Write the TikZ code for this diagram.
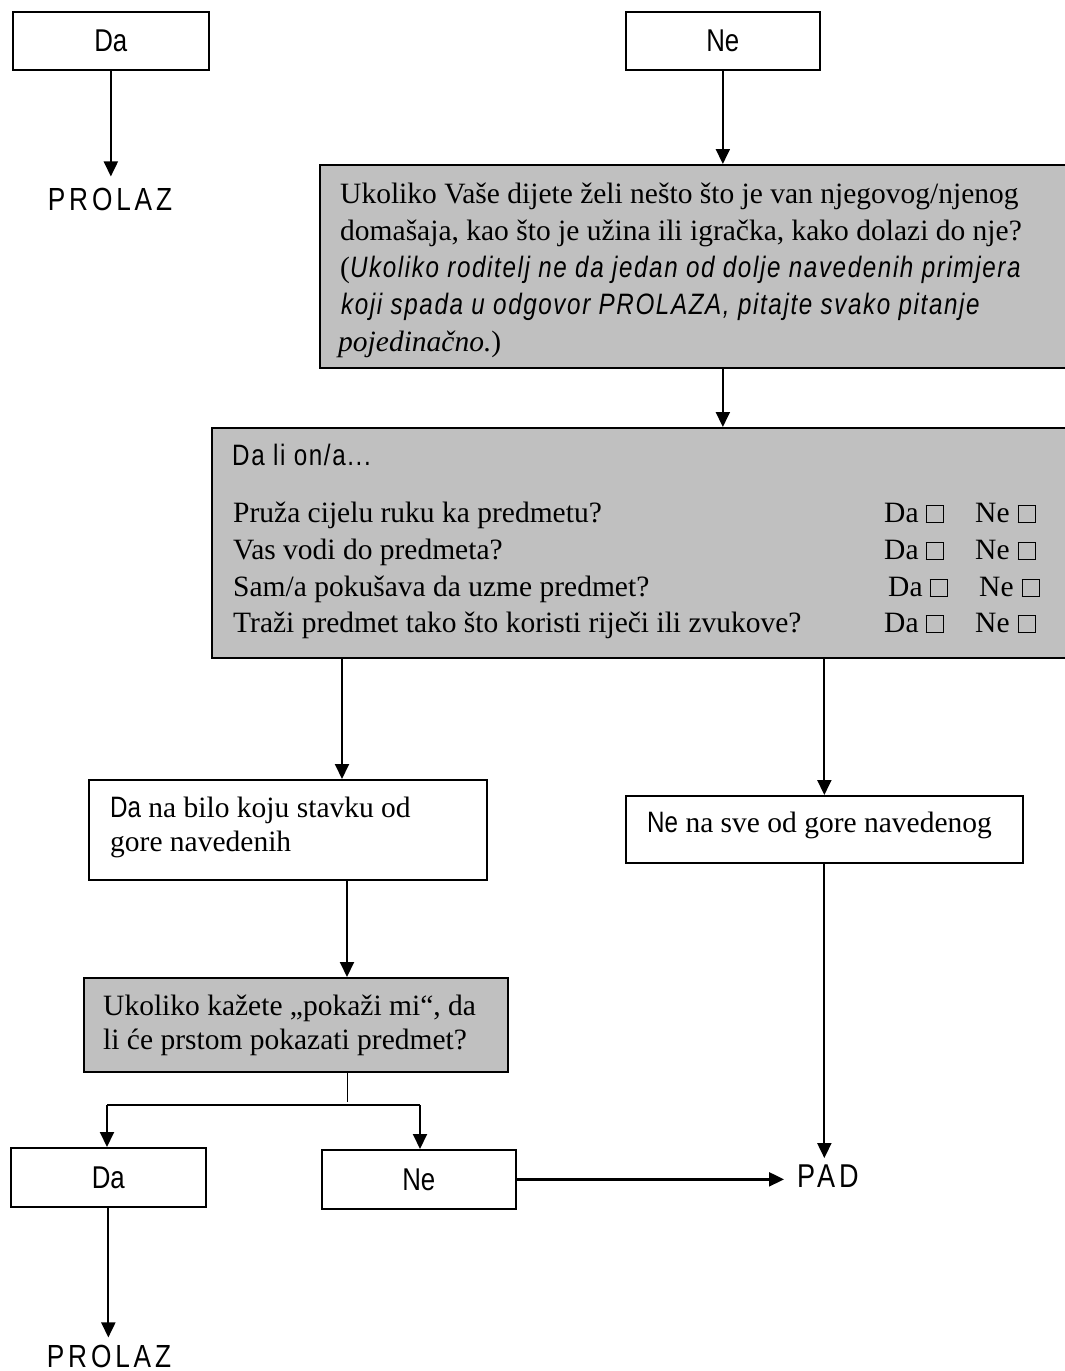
\documentclass[tikz,border=0pt]{standalone}
\usepackage{fontspec}
\setmainfont{Liberation Serif}
\newfontfamily\nar[FakeStretch=0.82]{Liberation Sans}
\newfontfamily\narls[FakeStretch=0.82,LetterSpace=5.5]{Liberation Sans}
\newfontfamily\narwide[FakeStretch=0.82,LetterSpace=12]{Liberation Sans}
\usetikzlibrary{arrows.meta,calc}
\definecolor{boxgray}{HTML}{C0C0C0}
\newcommand\cbx{{\setlength\fboxsep{0pt}\setlength\fboxrule{1.3pt}\fbox{\rule{0pt}{16pt}\rule{16pt}{0pt}}}}
\newcommand\dane{Da\hspace{7pt}\cbx\hspace{31pt}Ne\hspace{8pt}\cbx}
\begin{document}
\begin{tikzpicture}[x=1pt,y=-1pt,
  box/.style={draw, line width=1.7pt, inner sep=0pt, anchor=north west},
  gbox/.style={box, fill=boxgray},
  arr/.style={line width=1.9pt, -{Triangle[length=15pt,width=14pt]}},
  txt/.style={inner sep=0pt, anchor=base west, font=\fontsize{29.5}{37}\selectfont},
  big/.style={inner xsep=0pt, inner ysep=8pt, anchor=base, font=\narwide\fontsize{32}{36}\selectfont},
  lbl/.style={font=\nar\fontsize{31.5}{36}\selectfont}]
\fill[white] (0,0) rectangle (1065,1371);
\useasboundingbox (0,0) rectangle (1065,1371);

% top row
\node[box, minimum width=196pt, minimum height=58pt, lbl] (da1) at (12,11) {Da};
\node[big, inner ysep=11pt] (prolaz1) at (110,210) {PROLAZ};
\node[box, minimum width=194pt, minimum height=58pt, lbl] (ne1) at (625,11) {Ne};

% first question box
\node[gbox, minimum width=756pt, minimum height=203pt] (q1) at (319,164) {};
\node[txt] (q1a) at (340,203) {Ukoliko Vaše dijete želi nešto što je van njegovog/njenog};
\node[txt] (q1b) at (340,240) {domašaja, kao što je užina ili igračka, kako dolazi do nje?};
\node[txt] (q1c) at (340,277) {({\narls\itshape Ukoliko roditelj ne da jedan od dolje navedenih primjera}};
\node[txt] (q1d) at (341,314) {{\narls\itshape koji spada u odgovor PROLAZA, pitajte svako pitanje}};
\node[txt] (q1e) at (338,351) {\textit{pojedinačno.})};

% second question box
\node[gbox, minimum width=864pt, minimum height=230pt] (q2) at (211,427) {};
\node[txt, font=\narls\fontsize{29.5}{37}\selectfont] (q2h) at (232,465) {Da li on/a...};
\node[txt] (q2a) at (233,522) {Pruža cijelu ruku ka predmetu?};
\node[txt] (q2b) at (233,559) {Vas vodi do predmeta?};
\node[txt] (q2c) at (233,596) {Sam/a pokušava da uzme predmet?};
\node[txt] (q2d) at (233,632) {Traži predmet tako što koristi riječi ili zvukove?};
\node[txt] (c2a) at (884,522) {\dane};
\node[txt] (c2b) at (884,559) {\dane};
\node[txt] (c2c) at (888,596) {\dane};
\node[txt] (c2d) at (884,632) {\dane};

% answers
\node[box, minimum width=398pt, minimum height=100pt] (yes2) at (88,779) {};
\node[txt] (yes2a) at (110,817) {{\nar Da} na bilo koju stavku od};
\node[txt] (yes2b) at (110,851) {gore navedenih};
\node[box, minimum width=397pt, minimum height=67pt] (no2) at (625,795) {};
\node[txt] (no2a) at (647,832) {{\nar Ne} na sve od gore navedenog};

% third question box
\node[gbox, minimum width=424pt, minimum height=94pt] (q3) at (83,977) {};
\node[txt] (q3a) at (103,1015) {Ukoliko kažete „pokaži mi“, da};
\node[txt] (q3b) at (103,1049) {li će prstom pokazati predmet?};

% bottom row
\node[box, minimum width=195pt, minimum height=59pt, lbl] (da3) at (10,1147) {Da};
\node[box, minimum width=194pt, minimum height=59pt, lbl] (ne3) at (321,1149) {Ne};
\node[big, anchor=base west, inner xsep=13pt, inner ysep=6pt, font=\narwide\fontsize{33}{36}\selectfont] (pad) at (784,1187) {PAD};
\node[big, inner ysep=0pt] (prolaz2) at (109,1367) {PROLAZ};

% coordinates
\coordinate (lx) at (342,700);
\coordinate (br) at (347,1105);
\coordinate (brL) at (107,1105);
\coordinate (brR) at (420,1105);

% connectors
\draw[arr] (da1.south) -- (da1.south |- prolaz1.north);
\draw[arr] (ne1.south) -- (ne1.south |- q1.north);
\draw[arr] (ne1.south |- q1.south) -- (ne1.south |- q2.north);
\draw[arr] (lx |- q2.south) -- (lx |- yes2.north);
\draw[arr] (no2.north |- q2.south) -- (no2.north);
\draw[arr] (br |- yes2.south) -- (br |- q3.north);
\draw[line width=1pt] (br |- q3.south) -- ([yshift=3pt]br);
\draw[line width=1.6pt] (brL) -- (brR);
\draw[arr] (brL) -- (brL |- da3.north);
\draw[arr] (brR) -- (brR |- ne3.north);
\draw[arr, line width=2.4pt] (ne3.east) -- (ne3.east -| pad.west);
\draw[arr] (no2.south) -- (no2.south |- pad.north);
\draw[arr, shorten >=7pt] (da3.south) -- (da3.south |- prolaz2.north);
\end{tikzpicture}
\end{document}
